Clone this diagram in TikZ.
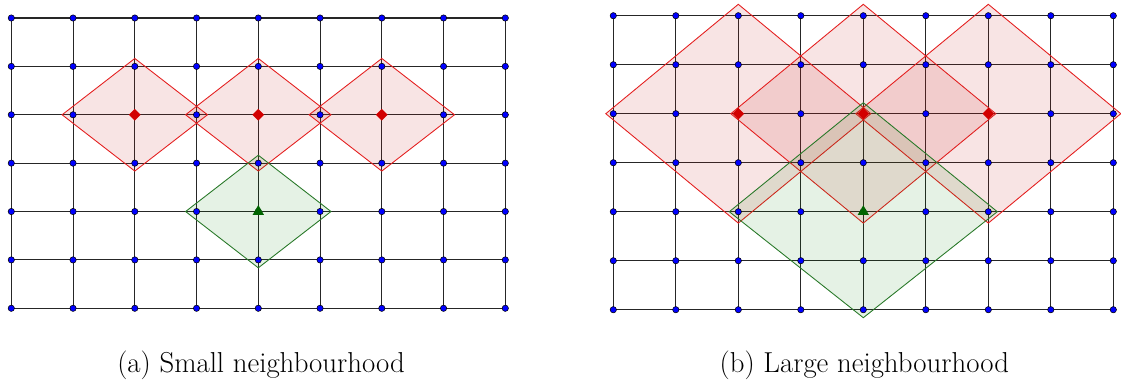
\documentclass[tikz,border=0pt]{standalone}
\usepackage{fontspec}
\usetikzlibrary{shapes.geometric}
\definecolor{zonered}{RGB}{228,30,30}
\definecolor{zonefill}{RGB}{200,30,30}
\definecolor{markred}{RGB}{210,0,0}
\definecolor{zonegreen}{RGB}{40,120,40}
\definecolor{markgreen}{RGB}{0,100,0}
\tikzset{
  gridline/.style={line width=0.6pt, black!85},
  dot/.style={circle, fill=blue, draw=black, line width=0.3pt, inner sep=0pt, minimum size=3.6pt},
  redzone/.style={draw=zonered, line width=0.5pt, fill=zonefill, fill opacity=0.12},
  greenzone/.style={draw=zonegreen, line width=0.5pt, fill=green!50!black, fill opacity=0.1},
  redmark/.style={diamond, fill=markred, inner sep=0pt, minimum width=6.8pt, minimum height=6.8pt},
  greenmark/.style={regular polygon, regular polygon sides=3, fill=markgreen, inner sep=0pt, minimum size=7.4pt},
  caption/.style={anchor=base, inner sep=0pt, font=\fontsize{16.4}{19}\selectfont}
}
\begin{document}
\begin{tikzpicture}[x=0.02cm,y=-0.02cm]
\useasboundingbox (0,0) rectangle (1121,379);
% grid coordinates
\foreach \i in {0,...,8} {
  \foreach \j in {0,...,6} {
    \coordinate (a-\i-\j) at ({11.3+61.75*\i},{18+48.38*\j});
    \coordinate (b-\i-\j) at ({613.3+62.5*\i},{15.7+49*\j});
  }
}
% grid lines
\foreach \j in {0,...,6} {
  \draw[gridline] (a-0-\j) -- (a-8-\j);
  \draw[gridline] (b-0-\j) -- (b-8-\j);
}
\foreach \i in {0,...,8} {
  \draw[gridline] (a-\i-0) -- (a-\i-6);
  \draw[gridline] (b-\i-0) -- (b-\i-6);
}
% small neighbourhoods
\foreach \c in {a-2-2,a-4-2,a-6-2} {
  \draw[redzone] ([shift={(-72.7,0)}]\c) -- ([shift={(0,-56.3)}]\c) -- ([shift={(72.7,0)}]\c) -- ([shift={(0,56.3)}]\c) -- cycle;
}
\draw[greenzone] ([shift={(-72.7,0)}]a-4-4) -- ([shift={(0,-56.3)}]a-4-4) -- ([shift={(72.7,0)}]a-4-4) -- ([shift={(0,56.3)}]a-4-4) -- cycle;
% large neighbourhoods
\foreach \c in {b-2-2,b-4-2,b-6-2} {
  \draw[redzone] ([shift={(-132.5,0)}]\c) -- ([shift={(0,-109.4)}]\c) -- ([shift={(132.5,0)}]\c) -- ([shift={(0,109.4)}]\c) -- cycle;
}
\draw[greenzone] ([shift={(-134,0)}]b-4-4) -- ([shift={(0,-109)}]b-4-4) -- ([shift={(134,0)}]b-4-4) -- ([shift={(0,106)}]b-4-4) -- cycle;
% dots
\foreach \i in {0,...,8} {
  \foreach \j in {0,...,6} {
    \node[dot] (da-\i-\j) at (a-\i-\j) {};
    \node[dot] (db-\i-\j) at (b-\i-\j) {};
  }
}
% markers
\foreach \c in {2,4,6} {
  \node[redmark] (ra-\c) at (a-\c-2) {};
  \node[redmark] (rb-\c) at (b-\c-2) {};
}
\node[greenmark] (ga) at (a-4-4) {};
\node[greenmark] (gb) at (b-4-4) {};
% captions
\node[caption] (capa) at (261,372.7) {(a) Small neighbourhood};
\node[caption] (capb) at (864.3,372.7) {(b) Large neighbourhood};
\end{tikzpicture}
\end{document}
